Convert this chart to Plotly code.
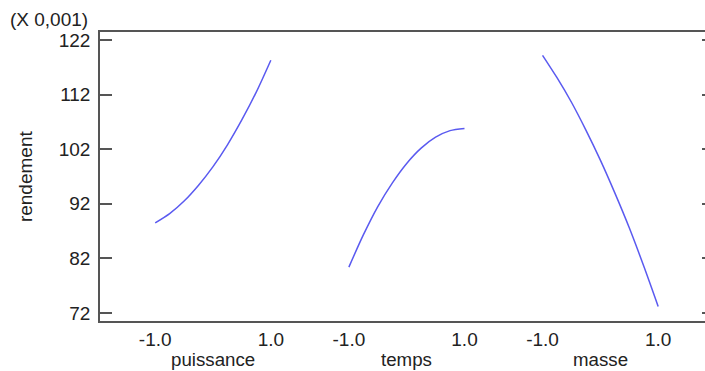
import plotly.graph_objects as go

# Main effects for rendement (in units of 0.001), each factor from -1 to +1
factors = ["puissance", "temps", "masse"]
levels = [-1.0, -0.75, -0.5, -0.25, 0.0, 0.25, 0.5, 0.75, 1.0]
puissance = [88.5, 90.2, 92.5, 95.4, 98.8, 102.8, 107.4, 112.5, 118.3]
temps = [80.4, 86.3, 91.5, 95.8, 99.4, 102.2, 104.2, 105.4, 105.8]
masse = [119.2, 115.1, 110.6, 105.5, 100.0, 94.0, 87.6, 80.6, 73.2]
y_ticks = [72, 82, 92, 102, 112, 122]
level_labels = ["-1.0", "1.0"]

series = [puissance, temps, masse]
spacing = 3.35  # horizontal distance between factor panels

W, H = 705, 371
L, R, T, B = 100, 0, 32, 50
frame = "#555555"
curve = "#5a5af0"
text_color = "#222222"
font = "Liberation Sans, Arial, sans-serif"
fs = 19

fig = go.Figure()
tickvals, ticktext = [], []
for i, (name, vals) in enumerate(zip(factors, series)):
    off = i * spacing
    fig.add_trace(go.Scatter(
        x=[off + l for l in levels], y=vals, mode="lines",
        line=dict(color=curve, width=1.5, shape="spline", smoothing=0.8),
        showlegend=False, hoverinfo="skip",
    ))
    tickvals += [off - 1, off + 1]
    ticktext += level_labels
    fig.add_annotation(x=off, xref="x", y=-0.132, yref="paper", text=name,
                       showarrow=False, yanchor="middle",
                       font=dict(size=18.7, color=text_color, family=font))

# axis scale note above the y tick labels
fig.add_annotation(xref="paper", x=-0.0165, xanchor="right",
                   yref="paper", y=1.042, yanchor="middle",
                   text="(X 0,001)", showarrow=False,
                   font=dict(size=fs, color=text_color, family=font))
fig.add_annotation(xref="paper", x=-0.122, yref="paper", y=0.502, text="rendement",
                   textangle=-90, showarrow=False, xanchor="center", yanchor="middle",
                   font=dict(size=fs, color=text_color, family=font))

fig.update_layout(
    width=W, height=H,
    margin=dict(l=L, r=R, t=T, b=B),
    paper_bgcolor="white", plot_bgcolor="white",
    xaxis=dict(range=[-1.955, 8.51], tickvals=tickvals, ticktext=ticktext,
               showgrid=False, zeroline=False, ticks="", showline=True,
               linecolor=frame, linewidth=1.5, mirror=True,
               tickfont=dict(size=fs, color=text_color, family=font)),
    yaxis=dict(range=[70.53, 123.47], tickvals=y_ticks,
               ticktext=[str(v) for v in y_ticks],
               showgrid=False, zeroline=False, ticks="inside", ticklen=12,
               tickcolor=frame, tickwidth=1.5, showline=True,
               linecolor=frame, linewidth=1.5, ticklabelstandoff=4,
               tickfont=dict(size=fs, color=text_color, family=font)),
    yaxis2=dict(overlaying="y", matches="y", anchor="free", position=1.0,
                side="right", tickvals=y_ticks, showticklabels=False,
                ticks="inside", ticklen=3, tickcolor=frame, tickwidth=1.5,
                showgrid=False, zeroline=False, showline=False),
)
# invisible trace to render the right-hand tick marks
fig.add_trace(go.Scatter(x=[None], y=[None], yaxis="y2", showlegend=False,
                         hoverinfo="skip"))

fig.write_html("out.html")
